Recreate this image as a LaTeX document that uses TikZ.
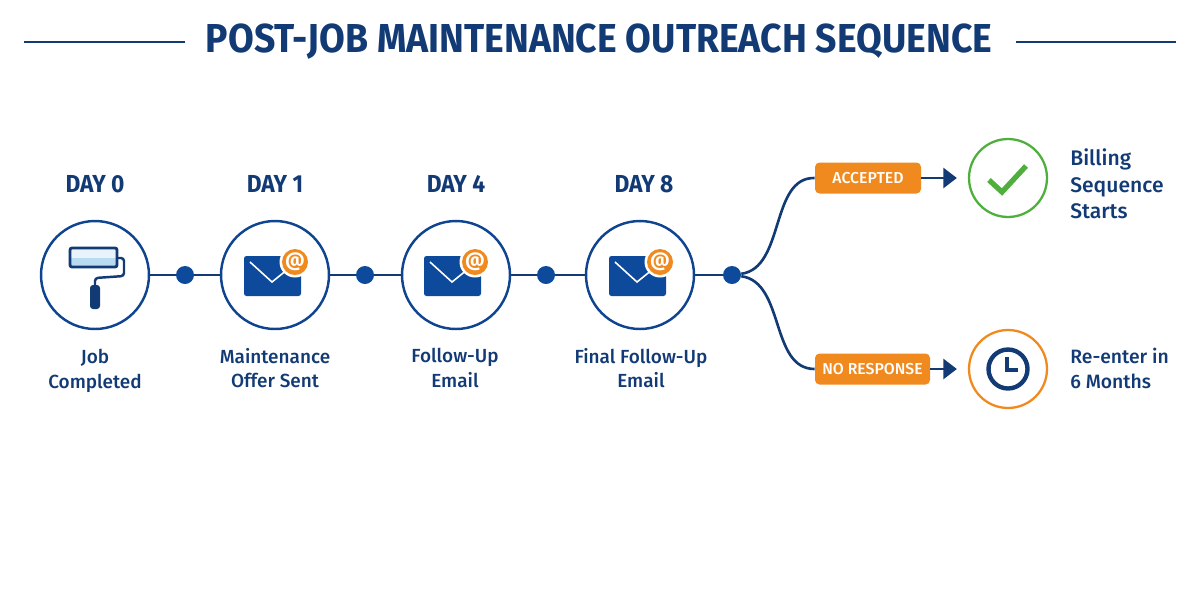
\documentclass[tikz,border=0pt]{standalone}
\usepackage{fontspec}
\setmainfont{Fira Sans}
\newfontfamily\midfont{Fira Sans Medium}
\newfontfamily\titlefont[FakeStretch=0.925]{Fira Sans}
\usetikzlibrary{arrows.meta}
\definecolor{navy}{HTML}{123A75}
\definecolor{mailblue}{HTML}{0E4A9C}
\definecolor{tagorange}{HTML}{F08A1E}
\definecolor{okgreen}{HTML}{4FAF3C}
\definecolor{rollerblue}{HTML}{B9DBF2}
\definecolor{rollerpale}{HTML}{E8F3FB}
\tikzset{
  stage/.style={circle,draw=mailblue!70!navy,line width=1.4pt,minimum size=2.16cm,inner sep=0pt},
  outcome/.style={circle,line width=1.3pt,minimum size=1.56cm,inner sep=0pt},
  junction/.style={circle,fill=mailblue,minimum size=0.36cm,inner sep=0pt},
  daylabel/.style={text=navy,font=\titlefont\fontsize{14}{15}\selectfont\bfseries},
  steplabel/.style={text=navy,align=center,font=\midfont\fontsize{10.8}{14}\selectfont},
  resultlabel/.style={text=navy,align=left,anchor=west,inner sep=0pt,font=\midfont\fontsize{12}{15}\selectfont},
  tag/.style={fill=tagorange,text=white,rounded corners=0.09cm,minimum height=0.62cm,inner sep=0pt,font=\midfont\fontsize{9}{11}\selectfont},
  rule/.style={navy,line width=1.2pt},
  link/.style={navy,line width=1.5pt},
  flow/.style={link,-{Triangle[length=0.27cm,width=0.4cm]}},
  mail/.pic={
    \fill[mailblue,rounded corners=0.05cm] (-31,-19) rectangle (26,21);
    \draw[white,line width=0.9pt] (-25,-13) -- (-3,7) -- (18,-10);
    \fill[white] (20,-13) circle (0.31cm);
    \fill[tagorange] (20,-13) circle (0.26cm);
    \node[text=white,font=\fontsize{11}{11}\selectfont\bfseries] (-at) at (20,-13.5) {@};
  }
}
\begin{document}
\begin{tikzpicture}[x=0.02cm,y=-0.02cm]
\useasboundingbox (0,0) rectangle (1200,600);
% title
\node[text=navy,font=\titlefont\fontsize{23}{30}\selectfont\bfseries] (title) at (599,42) {POST-JOB MAINTENANCE OUTREACH SEQUENCE};
\coordinate (ruleAa) at (24,42);
\coordinate (ruleAb) at (185,42);
\coordinate (ruleBa) at (1016,42);
\coordinate (ruleBb) at (1176,42);
\draw[rule] (ruleAa) -- (ruleAb);
\draw[rule] (ruleBa) -- (ruleBb);
% stages
\node[stage] (job) at (95,275) {};
\node[stage] (offer) at (275,275) {};
\node[stage] (follow) at (456,275) {};
\node[stage] (final) at (640,275) {};
\node[junction] (dotA) at (185,275) {};
\node[junction] (dotB) at (365,275) {};
\node[junction] (dotC) at (546,275) {};
\node[junction] (dotD) at (732,275) {};
\draw[link] (job) -- (dotA) -- (offer) -- (dotB) -- (follow) -- (dotC) -- (final) -- (dotD);
% roller
\draw[navy,line width=1.4pt,rounded corners=0.06cm] (117,258) -- (124,258) -- (124,276) -- (95,278) -- (95,286);
\fill[rollerpale] (70,248) rectangle (117,267);
\fill[rollerblue] (70,258) rectangle (117,267);
\draw[navy,line width=1.6pt,rounded corners=0.04cm] (70,248) rectangle (117,267);
\fill[navy,rounded corners=0.06cm] (90,285) rectangle (100,309);
% mail icons
\pic at (275,275) {mail};
\pic at (455,275) {mail};
\pic at (640,275) {mail};
% labels
\node[daylabel] (dayA) at (95,184) {DAY 0};
\node[daylabel] (dayB) at (275,184) {DAY 1};
\node[daylabel] (dayC) at (456,184) {DAY 4};
\node[daylabel] (dayD) at (644,184) {DAY 8};
\node[steplabel] (jobtext) at (95,371) {Job\\Completed};
\node[steplabel] (offertext) at (275,368) {Maintenance\\Offer Sent};
\node[steplabel] (followtext) at (455,368) {Follow-Up\\Email};
\node[steplabel] (finaltext) at (641,368) {Final Follow-Up\\Email};
% branches
\node[tag,minimum width=2.12cm] (accepted) at (868,178) {ACCEPTED};
\node[tag,minimum width=2.3cm] (noresp) at (872.5,369) {NO RESPONSE};
\node[outcome,draw=okgreen] (billing) at (1008,178) {};
\node[outcome,draw=tagorange] (reenter) at (1008,369) {};
\draw[link] (dotD) .. controls (785,268) and (770,177) .. (accepted.west);
\draw[link] (dotD) .. controls (785,282) and (770,369) .. (noresp.west);
\draw[flow,shorten >=0.22cm] (accepted) -- (billing);
\draw[flow,shorten >=0.22cm] (noresp) -- (reenter);
% check and clock
\draw[okgreen,line width=3pt] (989,180) -- (1002,192) -- (1026,166);
\draw[navy,line width=2.5pt] (1008,369) circle (0.39cm);
\draw[navy,line width=1.8pt] (1007,357) -- (1007,370) -- (1018,370);
\node[resultlabel] (billingtext) at (1070,184) {Billing\\Sequence\\Starts};
\node[resultlabel,font=\midfont\fontsize{11}{14.3}\selectfont] (reentertext) at (1070,368.5) {Re-enter in\\6 Months};
\end{tikzpicture}
\end{document}
